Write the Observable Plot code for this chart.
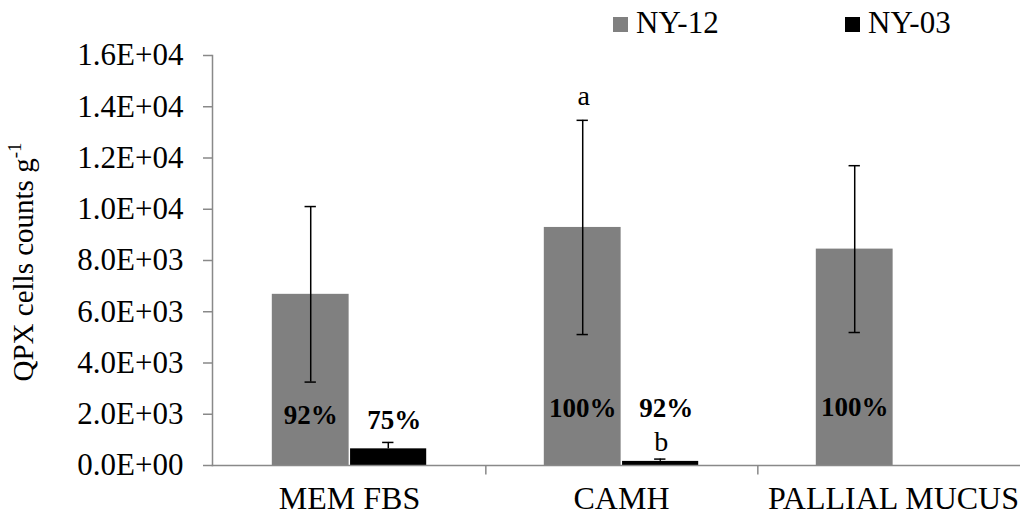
<!DOCTYPE html>
<html>
<head>
<meta charset="utf-8">
<script src="https://cdn.jsdelivr.net/npm/d3@7"></script>
<script src="https://cdn.jsdelivr.net/npm/@observablehq/plot@0.6"></script>
<style>
  html, body { margin: 0; padding: 0; background: #fff; }
  body { width: 1020px; height: 516px; overflow: hidden; font-family: "Liberation Serif", "Times New Roman", serif; }
  #legend { height: 45px; position: relative; font-size: 31px; color: #000; }
  .item { position: absolute; top: 0; height: 45px; display: flex; align-items: center; }
  .sw { width: 15px; height: 15px; margin-right: 8px; margin-top: 4px; }
  svg { display: block; }
</style>
</head>
<body>
<div id="legend"></div>
<div id="chart"></div>
<script>
const categories = ["MEM FBS", "CAMH", "PALLIAL MUCUS"];
const series = ["NY-12", "NY-03"];
const seriesColors = ["#808080", "#000000"];
const ny12 = [6680, 9290, 8445];
const ny12Err = [3425, 4180, 3255];
const ny03 = [650, 160, null];
const ny03Err = [250, 90, null];
const pct12 = ["92%", "100%", "100%"];
const pct12Y = [1950, 2225, 2260];
const pct03 = ["75%", "92%", null];
const pct03Y = [1760, 2225, null];
const letter12 = [null, "a", null];
const letter12Y = [null, 14400, null];
const letter03 = [null, "b", null];
const letter03Y = [null, 900, null];
const yTicks = [0, 2000, 4000, 6000, 8000, 10000, 12000, 14000, 16000];

// legend
const legend = document.getElementById("legend");
const legendX = [613, 845];
series.forEach((s, i) => {
  const it = document.createElement("div");
  it.className = "item";
  it.style.left = legendX[i] + "px";
  it.innerHTML = `<span class="sw" style="background:${seriesColors[i]}"></span><span>${s}</span>`;
  legend.appendChild(it);
});

const rows12 = categories.map((c, i) => ({category: c, value: ny12[i], err: ny12Err[i], pct: pct12[i], pctY: pct12Y[i], letter: letter12[i], letterY: letter12Y[i]})).filter(d => d.value != null);
const rows03 = categories.map((c, i) => ({category: c, value: ny03[i], err: ny03Err[i], pct: pct03[i], pctY: pct03Y[i], letter: letter03[i], letterY: letter03Y[i]})).filter(d => d.value != null);

const x0 = 212, x1 = 1030;
const bw = (x1 - x0) / categories.length;
const barW = 77.5;
const outer = 58.8;
const off12 = outer + barW / 2 - bw / 2;      // center offset of NY-12 bar
const off03 = bw - outer - barW / 2 - bw / 2; // center offset of NY-03 bar
const capW = 12;

const fmt = d => {
  if (d === 0) return "0.0E+00";
  const e = Math.floor(Math.log10(d));
  const m = d / Math.pow(10, e);
  return m.toFixed(1) + "E+" + String(e).padStart(2, "0");
};

const axisGray = "#898989";

const capInsets = off => ({insetLeft: bw / 2 + off - capW / 2, insetRight: bw / 2 - off - capW / 2});

const plot = Plot.plot({
  width: 1020,
  height: 471,
  marginLeft: 212,
  marginRight: 0,
  marginTop: 10,
  marginBottom: 51,
  style: {fontFamily: "'Liberation Serif', 'Times New Roman', serif", color: "#000", background: "#fff", overflow: "visible"},
  x: {domain: categories, range: [x0, x1], padding: 0, axis: null},
  y: {domain: [0, 16000], axis: null},
  marks: [
    Plot.barY(rows12, {x: "category", y: "value", fill: seriesColors[0], insetLeft: outer, insetRight: bw - outer - barW}),
    Plot.barY(rows03, {x: "category", y: "value", fill: seriesColors[1], insetLeft: bw - outer - barW + 0.7, insetRight: outer}),
    Plot.frame({anchor: "left", stroke: axisGray, strokeWidth: 1.5}),
    Plot.frame({anchor: "bottom", stroke: axisGray, strokeWidth: 1.5}),
    Plot.axisY(yTicks, {tickFormat: fmt, tickSize: 9, tickPadding: 20, fontSize: 31, stroke: axisGray, strokeWidth: 1.5, fill: "#000", label: null}),
    Plot.ruleX(categories, {x: d => d, dx: bw / 2, y1: 0, y2: -370, stroke: axisGray, strokeWidth: 1.5}),
    Plot.axisX(categories, {tickSize: 0, tickPadding: 21, fontSize: 32, fill: "#000", anchor: "bottom", label: null}),
    // error bars
    Plot.ruleX(rows12, {x: "category", dx: off12, y1: d => d.value - d.err, y2: d => d.value + d.err, stroke: "#000", strokeWidth: 1.5}),
    Plot.tickY(rows12, {x: "category", y: d => d.value + d.err, ...capInsets(off12), stroke: "#000", strokeWidth: 1.5}),
    Plot.tickY(rows12, {x: "category", y: d => d.value - d.err, ...capInsets(off12), stroke: "#000", strokeWidth: 1.5}),
    Plot.ruleX(rows03, {x: "category", dx: off03, y1: d => d.value, y2: d => d.value + d.err, stroke: "#000", strokeWidth: 1.5}),
    Plot.tickY(rows03, {x: "category", y: d => d.value + d.err, ...capInsets(off03), stroke: "#000", strokeWidth: 1.5}),
    // labels
    Plot.text(rows12.filter(d => d.pct), {x: "category", y: "pctY", text: "pct", dx: off12, fontSize: 27, fontWeight: "bold", fill: "#000"}),
    Plot.text(rows03.filter(d => d.pct), {x: "category", y: "pctY", text: "pct", dx: off03 + 6, fontSize: 27, fontWeight: "bold", fill: "#000"}),
    Plot.text(rows12.filter(d => d.letter), {x: "category", y: "letterY", text: "letter", dx: off12 + 1, fontSize: 28, fill: "#000"}),
    Plot.text(rows03.filter(d => d.letter), {x: "category", y: "letterY", text: "letter", dx: off03 + 1, fontSize: 28, fill: "#000"})
  ]
});
document.getElementById("chart").appendChild(plot);

// y-axis title with superscript
const svg = d3.select(plot);
const t = svg.append("text")
  .attr("transform", "translate(33,217) rotate(-90)")
  .attr("text-anchor", "middle")
  .attr("font-size", 29)
  .attr("fill", "#000")
  .attr("font-family", "'Liberation Serif', 'Times New Roman', serif");
t.append("tspan").text("QPX cells counts g");
t.append("tspan").attr("font-size", 19).attr("dy", -12).text("-1");
</script>
</body>
</html>
